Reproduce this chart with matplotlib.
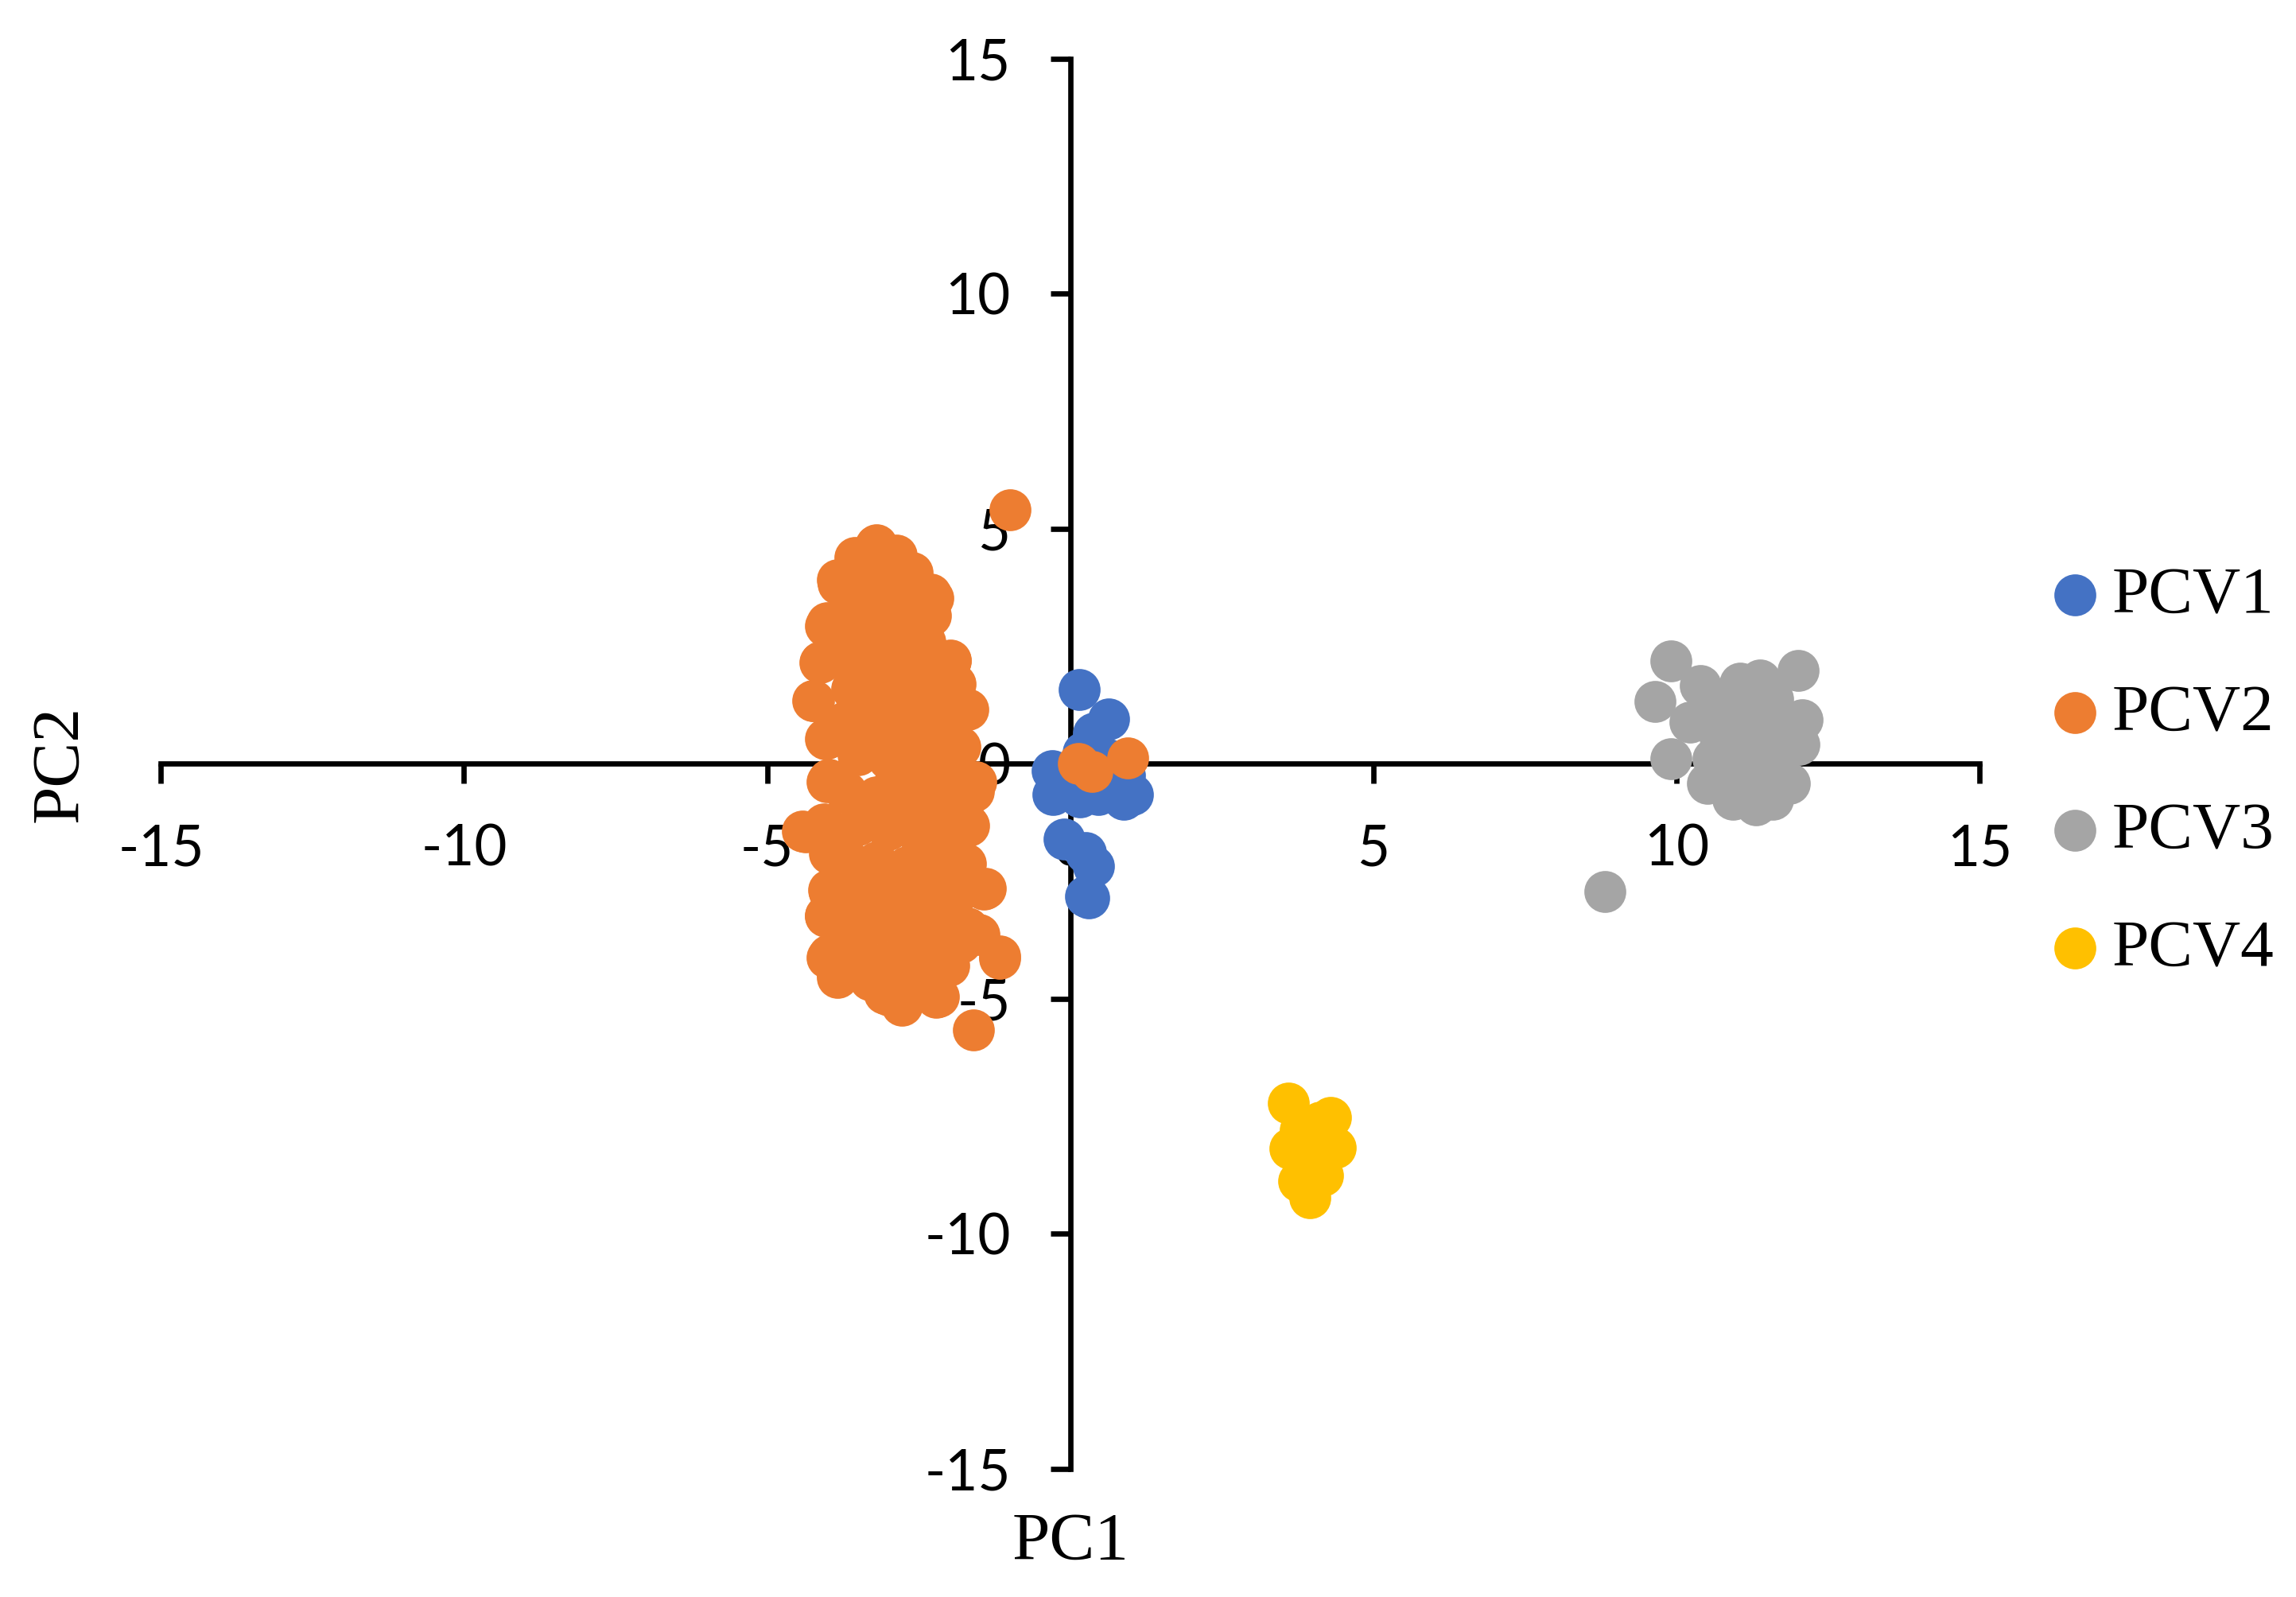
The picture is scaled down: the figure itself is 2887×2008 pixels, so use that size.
import matplotlib.pyplot as plt

plt.rcParams['axes.unicode_minus'] = False

# PCV1 (blue)
pcv1_x = [0.15, 0.64, 0.38, 0.21, -0.30, -0.28, 0.16, 0.47, 0.88, 1.03, 0.90,
          -0.10, 0.25, 0.38, 0.25, 0.31, 0.47, 0.60, 0.05]
pcv1_y = [1.58, 0.96, 0.65, 0.25, -0.14, -0.65, -0.71, -0.65, -0.76, -0.65, -0.25,
          -1.61, -1.89, -2.18, -2.82, -2.85, -0.54, 0.10, -0.40]

# PCV2 (orange)
pcv2_x = [-0.99, -1.59, -1.16, -4.42, -4.23, -1.98, -1.71, -4.13, -4.03, -3.82,
          -3.55, -3.21, -2.27, -2.51, -1.59, -1.67, -1.40, -1.69, -2.17, -2.78,
          -3.07, -3.84, -3.99, -4.03, -3.99, -4.06, -4.03, -3.99,
          -3.20, -3.53, -3.84, -4.01, -4.12, -4.25, -4.01, -4.01, -4.36, -3.97,
          -3.97, -4.04, -4.01, -3.84, -3.00, -2.79, -2.21, -1.16, -1.51, -1.43,
          -1.73, -1.69, -1.56, -1.82, -1.69, -2.57, -1.97, -2.30, -2.30, -2.61,
          -2.87, -2.13, -2.04, -2.35,
          -3.6, -3.2, -2.8, -2.6, -3.0, -3.5, -3.8, -3.3, -2.8, -2.4, -3.6, -3.1,
          -2.7, -2.2, -3.7, -3.2, -2.6, -2.1, -3.5, -3.0, -2.5, -3.7, -3.2, -2.7,
          -2.2, -3.5, -3.0, -2.5, -2.0, -3.7, -3.2, -2.7, -2.3, -3.5, -3.0, -2.5,
          -3.7, -3.2, -2.7, -2.3, -3.5, -3.0, -2.5, -2.0, -3.3, -2.6, -1.8, -1.9,
          -1.8,
          -3.4, -2.9, -2.4, -3.4, -2.9, -2.4, -3.4, -2.9, -2.4, -3.4, -2.9, -2.4,
          -3.4, -2.9, -2.4, -3.4, -2.9, -2.4, -3.4, -2.9, -3.4, -2.9, -2.2, -2.0,
          -2.0, -2.1, -1.9, -3.6, -3.7,
          0.14, 0.36, 0.95]
pcv2_y = [5.40, -5.67, -4.14, -1.43, 1.34, 2.18, 1.15, 2.15, 2.93, 3.83,
          4.39, 4.64, 3.52, 2.99, -0.59, -1.31, -2.65, -3.49, -4.95, -5.14,
          -4.89, -4.55, -4.08, -3.24, -2.68, -1.28, 0.53, -0.34,
          4.66, 4.32, 3.91, 3.00, 2.17, 1.34, 0.55, -0.39, -1.45, -1.90,
          -2.73, -3.22, -4.13, -4.47, -4.92, -4.99, -4.96, -4.09, -3.64, -2.66,
          -2.13, -1.30, -0.39, 0.36, 1.15, 1.42, 2.21, 3.15, 3.61, 4.06,
          4.44, -0.47, -3.11, -2.05,
          3.5, 3.8, 3.6, 3.0, 3.0, 2.8, 2.3, 2.2, 2.3, 2.0, 1.6, 1.5,
          1.3, 1.0, 0.9, 0.8, 0.6, 0.4, 0.2, 0.1, -0.1, -0.6, -0.7, -0.8,
          -0.9, -1.3, -1.4, -1.5, -1.6, -2.0, -2.1, -2.2, -2.5, -2.7, -2.8, -3.0,
          -3.5, -3.4, -3.6, -3.8, -4.0, -4.2, -4.4, -4.3, -4.6, -4.7, -3.8, -2.8,
          -0.9,
          4.2, 4.1, 3.3, 3.3, 2.6, 2.6, 1.9, 1.8, 1.7, 1.2, 1.1, 0.3,
          0.5, -0.4, -0.5, -1.0, -1.1, -1.9, -2.4, -2.4, -3.1, -3.2, -3.3, -2.0,
          -0.2, 0.7, 1.7, -3.9, -2.3,
          0.00, -0.17, 0.13]

# PCV3 (grey)
pcv3_x = [8.82, 9.91, 9.65, 9.91, 10.40, 10.23, 12.01, 11.38, 11.05, 12.08,
          12.02, 11.86, 11.59, 11.32, 10.94, 10.51, 11.16, 11.16, 10.72, 11.59,
          11.70, 10.61, 11.3, 11.0, 11.5, 10.8, 10.6, 11.5, 11.8]
pcv3_y = [-2.71, 2.19, 1.32, 0.11, 1.67, 0.88, 1.98, 1.78, 1.72, 0.93,
          0.42, -0.42, -0.76, -0.88, -0.76, -0.42, 0.82, -0.03, 0.54, 1.38,
          0.25, 1.21, 0.4, 1.1, -0.3, -0.2, 0.1, 0.7, 0.9]

# PCV4 (yellow)
pcv4_x = [3.60, 4.30, 3.62, 4.38, 3.77, 4.16, 3.95, 3.99, 3.90, 4.12, 3.80]
pcv4_y = [-7.21, -7.52, -8.19, -8.17, -8.87, -8.76, -9.24, -7.91, -8.48, -7.63, -7.80]

labels = ['PCV1', 'PCV2', 'PCV3', 'PCV4']
colors = ['#4472C4', '#ED7D31', '#A5A5A5', '#FFC000']
ticks = [-15, -10, -5, 0, 5, 10, 15]

fig = plt.figure(figsize=(2887 / 300, 2008 / 300), dpi=300)
ax = fig.add_axes([0.0701, 0.0802, 0.7920, 0.8831])

series = [(pcv1_x, pcv1_y), (pcv2_x, pcv2_y), (pcv3_x, pcv3_y), (pcv4_x, pcv4_y)]
handles = []
for i, (xs, ys) in enumerate(series):
    h = ax.scatter(xs, ys, s=160, color=colors[i], label=labels[i], linewidths=0, zorder=3 + i)
    handles.append(h)

ax.set_xlim(-15, 15)
ax.set_ylim(-15, 15)
ax.set_xticks(ticks)
ax.set_yticks(ticks)

ax.spines['left'].set_position(('data', 0))
ax.spines['bottom'].set_position(('data', 0))
ax.spines['right'].set_visible(False)
ax.spines['top'].set_visible(False)
for sp in ['left', 'bottom']:
    ax.spines[sp].set_linewidth(1.6)
    ax.spines[sp].set_zorder(2)

ax.tick_params(axis='both', direction='out', length=6, width=1.6, labelsize=17, pad=12)
for lab in ax.get_xticklabels() + ax.get_yticklabels():
    lab.set_fontfamily('Lato')

ax.set_xlabel('PC1', fontsize=20.5, fontfamily='Liberation Serif')
ax.set_ylabel('PC2', fontsize=20.5, fontfamily='Liberation Serif')
ax.xaxis.set_label_coords(0.5, -0.031)
ax.yaxis.set_label_coords(-0.038, 0.5)

fig.legend(handles=handles, loc='center left', bbox_to_anchor=(0.875, 0.516),
           frameon=False, borderpad=0, handlelength=1.0, handletextpad=0.05,
           labelspacing=0.86, scatterpoints=1,
           prop={'family': 'Liberation Serif', 'size': 20})

fig.savefig('out.png', dpi=300)
